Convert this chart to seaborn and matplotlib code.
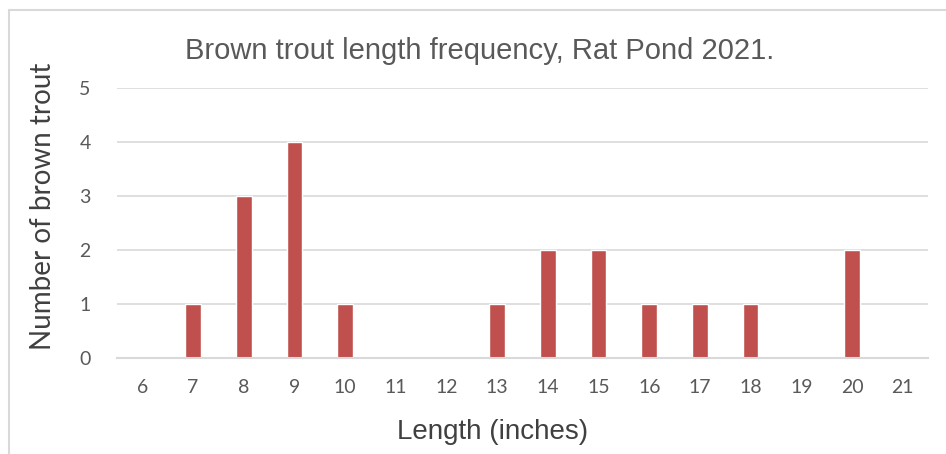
import matplotlib
matplotlib.use("Agg")
import matplotlib.pyplot as plt
import seaborn as sns
import pandas as pd
from matplotlib.lines import Line2D

# Data
lengths = [6, 7, 8, 9, 10, 11, 12, 13, 14, 15, 16, 17, 18, 19, 20, 21]
counts = [0, 1, 3, 4, 1, 0, 0, 1, 2, 2, 1, 1, 1, 0, 2, 0]
title = "Brown trout length frequency, Rat Pond 2021."
x_label = "Length (inches)"
y_label = "Number of brown trout"

df = pd.DataFrame({"Length": [str(v) for v in lengths], "Count": counts})

sns.set_style("white")
plt.rcParams["font.family"] = ["Liberation Sans", "DejaVu Sans"]
calibri_like = ["Lato", "DejaVu Sans"]

W, H = 946, 454
fig = plt.figure(figsize=(W / 100, H / 100), dpi=100)
ax = fig.add_axes([117 / W, 1 - 358 / H, (928 - 117) / W, (358 - 88) / H])

sns.barplot(data=df, x="Length", y="Count", color="#C0504D", saturation=1,
            width=0.31, ax=ax, order=[str(v) for v in lengths])

ax.set_ylim(0, 5)
ax.set_xlim(-0.5, len(lengths) - 0.5)
ax.set_yticks(range(0, 6))
ax.yaxis.grid(True, color="#D9D9D9", linewidth=1.2)
ax.set_axisbelow(True)
for s in ["top", "right", "left"]:
    ax.spines[s].set_visible(False)
ax.spines["bottom"].set_color("#D9D9D9")
ax.spines["bottom"].set_linewidth(1.5)
ax.tick_params(axis="both", length=0, labelsize=14, labelcolor="#595959")
ax.tick_params(axis="y", pad=19)
ax.tick_params(axis="x", pad=15)
for lbl in ax.get_xticklabels() + ax.get_yticklabels():
    lbl.set_family(calibri_like)

ax.set_xlabel("")
ax.set_ylabel("")
fig.text(493 / W, 1 - 432 / H, x_label, fontsize=20, color="#404040",
         ha="center", va="center")
fig.text(43 / W, 1 - 206 / H, y_label, fontsize=20, color="#404040",
         ha="center", va="center", rotation=90, family=calibri_like)
fig.text(480 / W, 1 - 51 / H, title, fontsize=21, color="#595959",
         ha="center", va="center")

# chart frame (only left and top edges visible in the crop)
fig.add_artist(Line2D([8.5 / W, 8.5 / W], [0, 1 - 10 / H], color="#D9D9D9",
                      linewidth=1.5, transform=fig.transFigure))
fig.add_artist(Line2D([8.5 / W, 1], [1 - 10 / H, 1 - 10 / H], color="#D9D9D9",
                      linewidth=1.5, transform=fig.transFigure))

fig.savefig("out.png", dpi=100)
